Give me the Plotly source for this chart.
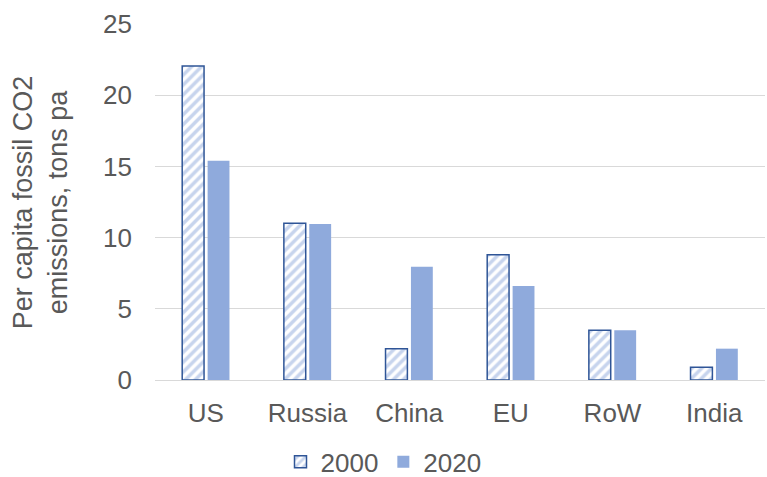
import plotly.graph_objects as go

categories = ["US", "Russia", "China", "EU", "RoW", "India"]
values_2000 = [22.05, 11.0, 2.2, 8.8, 3.5, 0.9]
values_2020 = [15.4, 10.95, 7.95, 6.6, 3.5, 2.2]

font_color = "#595959"
font_family = "Liberation Sans, Arial, sans-serif"
fs = 26

fig = go.Figure()
fig.add_trace(go.Bar(
    name="2000", x=categories, y=values_2000,
    marker=dict(
        color="white",
        line=dict(color="#2F5597", width=1.5),
        pattern=dict(shape="/", fgcolor="#8FAADC", bgcolor="white", size=7, solidity=0.5),
    ),
))
fig.add_trace(go.Bar(
    name="2020", x=categories, y=values_2020,
    marker=dict(color="#8FAADC", line=dict(width=0)),
))

fig.update_layout(
    width=767, height=477,
    margin=dict(l=155, r=2, t=24, b=97),
    paper_bgcolor="white", plot_bgcolor="white",
    font=dict(family=font_family, size=fs, color=font_color),
    barmode="group", bargap=0.5, bargroupgap=0.14,
    showlegend=True,
    legend=dict(
        orientation="h", xref="container", yref="container",
        x=0.5, xanchor="center", y=0.032, yanchor="middle",
        font=dict(size=fs, color=font_color), itemwidth=30,
    ),
    xaxis=dict(
        showgrid=False, showline=True, linecolor="#D9D9D9", linewidth=1,
        ticks="", tickfont=dict(size=fs, color=font_color),
        ticklabelstandoff=10,
    ),
    yaxis=dict(
        range=[0, 25], dtick=5, showgrid=True, gridcolor="#D9D9D9", gridwidth=1,
        zeroline=False, showline=False, ticks="",
        tickfont=dict(size=fs, color=font_color),
        ticklabelstandoff=22,
    ),
    annotations=[dict(
        text="Per capita fossil CO2<br>emissions, tons pa",
        xref="paper", yref="paper", x=-0.188, y=0.5,
        xanchor="center", yanchor="middle", textangle=-90, showarrow=False,
        font=dict(size=27, color=font_color),
    )],
)

fig.write_html("out.html")
